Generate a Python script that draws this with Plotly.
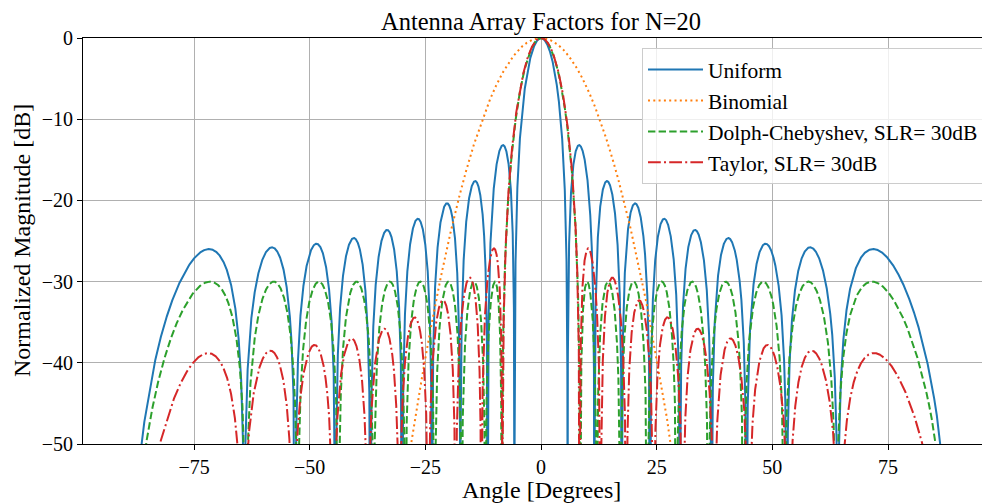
import numpy as np
import plotly.graph_objects as go

# ---- data: element excitation weights (half of the symmetric N=20 array) ----
N = 20
spacing_wavelengths = 0.5
uniform_half = [1.0] * 10
binomial_half = [1, 19, 171, 969, 3876, 11628, 27132, 50388, 75582, 92378]
chebyshev_half = [0.3256, 0.2856, 0.3910, 0.5046, 0.6203, 0.7315, 0.8310, 0.9124, 0.9701, 1.0000]
taylor_half = [0.20587, 0.31105, 0.41630, 0.52836, 0.63950, 0.74539, 0.84008, 0.91739, 0.97232, 1.00000]
series_names = ["Uniform", "Binomial", "Dolph-Chebyshev, SLR= 30dB", "Taylor, SLR= 30dB"]
x_ticks = [-75, -50, -25, 0, 25, 50, 75]

theta = np.linspace(-90, 90, 20001)
n = np.arange(N)
phase = np.exp(1j * 2 * np.pi * spacing_wavelengths * np.outer(np.sin(np.radians(theta)), n))

def array_factor_db(half):
    w = np.array(list(half) + list(half)[::-1], float)
    a = np.abs(phase @ w)
    a = a / a.max()
    return 20 * np.log10(np.maximum(a, 1e-12))

styles = [
    dict(color="#1f77b4", width=2),
    dict(color="#ff7f0e", width=2, dash="2px,3.3px"),
    dict(color="#2ca02c", width=2, dash="7.4px,3.2px"),
    dict(color="#d62728", width=2, dash="12.8px,3.2px,2px,3.2px"),
]

fig = go.Figure()
for name, half, st in zip(series_names, [uniform_half, binomial_half, chebyshev_half, taylor_half], styles):
    fig.add_trace(go.Scatter(x=theta, y=array_factor_db(half), mode="lines", name=name, line=st))

# page body has an 8px margin: figure coords = window coords - 8
OFF = 8
W, H = 990 - OFF, 504 - OFF
L, T = 83 - OFF, 38 - OFF
R, B = 0, H - (444 - OFF)
pw, ph = W - L - R, H - T - B
fig.update_layout(
    width=W, height=H, margin=dict(l=L, r=R, t=T, b=B),
    font=dict(family="Liberation Serif", size=20, color="black"),
    plot_bgcolor="white", paper_bgcolor="white",
    title=dict(text="Antenna Array Factors for N=20", x=(541 - OFF) / W, xanchor="center", xref="container",
               yref="container", y=1 - 4.5 / H, yanchor="top", font=dict(size=24.5)),
    legend=dict(x=(642 - 83) / pw, xanchor="left", y=1 - (48 - 38) / ph, yanchor="top",
                font=dict(size=21.5), bordercolor="#cccccc", borderwidth=1,
                bgcolor="rgba(255,255,255,0.8)", itemwidth=55),
)
fig.update_xaxes(range=[-99, 97.04], tickvals=x_ticks, showgrid=True, gridcolor="#b0b0b0", gridwidth=1,
                 showline=True, linecolor="black", mirror=True, ticks="outside", ticklen=5, tickcolor="black",
                 automargin=False, zeroline=False, tickfont=dict(size=20))
fig.update_yaxes(range=[-50, 0], dtick=10, showgrid=True, gridcolor="#b0b0b0", gridwidth=1,
                 showline=True, linecolor="black", mirror=True, ticks="outside", ticklen=5, tickcolor="black",
                 automargin=False, zeroline=False, tickfont=dict(size=20))
fig.add_annotation(text="Angle [Degrees]", xref="paper", yref="paper", x=(541 - 83) / pw, y=-(490 - 444) / ph,
                   xanchor="center", yanchor="middle", showarrow=False, font=dict(size=24))
fig.add_annotation(text="Normalized Magnitude [dB]", xref="paper", yref="paper", x=(22 - 83) / pw, y=0.5,
                   xanchor="center", yanchor="middle", textangle=-90, showarrow=False, font=dict(size=24))
fig.write_html("out.html")
